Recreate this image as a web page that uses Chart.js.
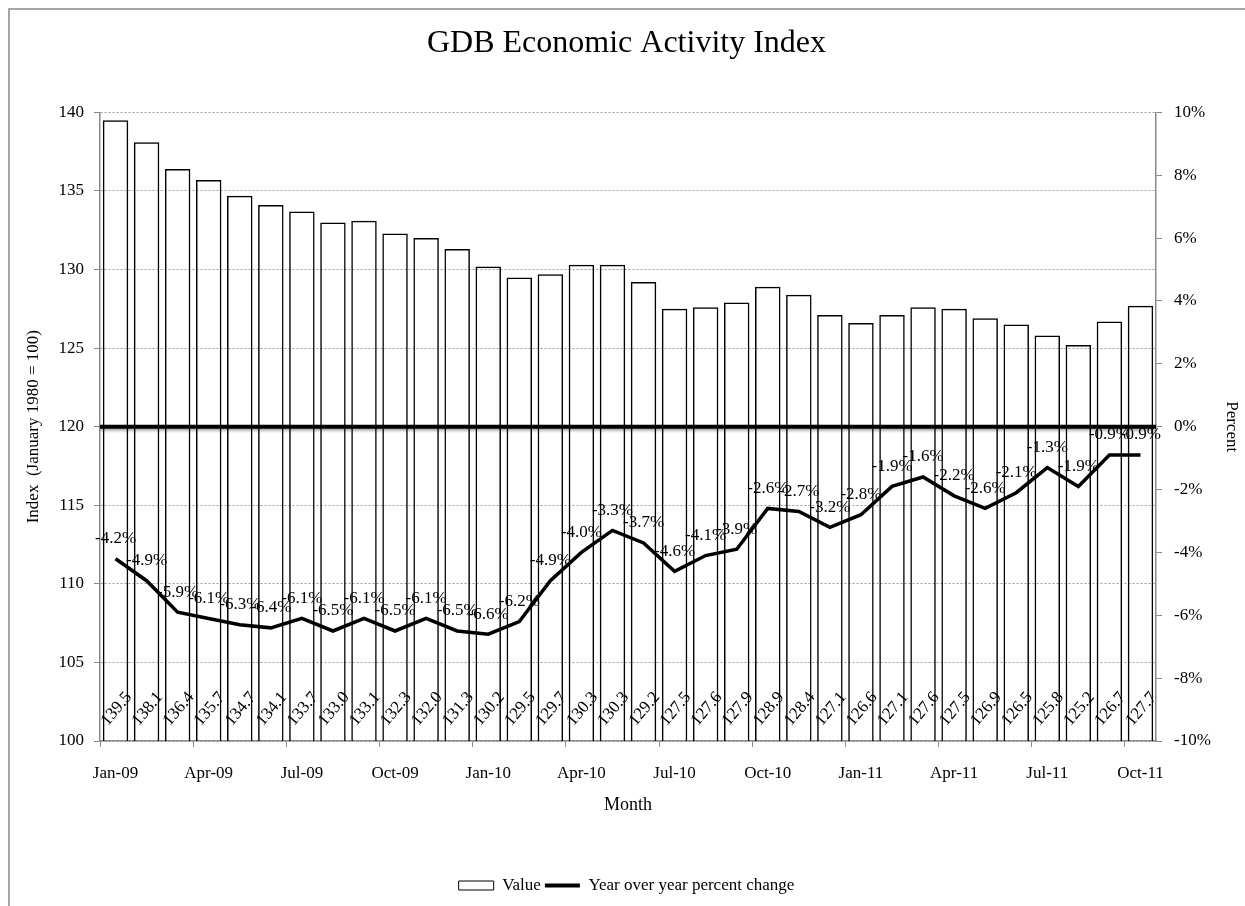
<!DOCTYPE html>
<html>
<head>
<meta charset="utf-8">
<title>GDB Economic Activity Index</title>
<script src="https://cdn.jsdelivr.net/npm/chart.js@4.4.0/dist/chart.umd.min.js"></script>
<style>
    html, body { margin: 0; padding: 0; background: #fff; }
    #wrap { position: relative; width: 1245px; height: 906px; }
</style>
</head>
<body>
<div id="wrap"><canvas id="gdbChart"></canvas></div>
<script>
// month labels, Jan-09 .. Oct-11
const months = [
    "Jan-09", "Feb-09", "Mar-09", "Apr-09", "May-09", "Jun-09", "Jul-09", "Aug-09", "Sep-09", "Oct-09", "Nov-09", "Dec-09",
    "Jan-10", "Feb-10", "Mar-10", "Apr-10", "May-10", "Jun-10", "Jul-10", "Aug-10", "Sep-10", "Oct-10", "Nov-10", "Dec-10",
    "Jan-11", "Feb-11", "Mar-11", "Apr-11", "May-11", "Jun-11", "Jul-11", "Aug-11", "Sep-11", "Oct-11"
];

// index value (January 1980 = 100)
const indexValues = [
    139.5, 138.1, 136.4, 135.7, 134.7, 134.1, 133.7, 133.0, 133.1, 132.3, 132.0, 131.3,
    130.2, 129.5, 129.7, 130.3, 130.3, 129.2, 127.5, 127.6, 127.9, 128.9, 128.4, 127.1,
    126.6, 127.1, 127.6, 127.5, 126.9, 126.5, 125.8, 125.2, 126.7, 127.7
];

// year over year percent change
const yoyChange = [
    -4.2, -4.9, -5.9, -6.1, -6.3, -6.4, -6.1, -6.5, -6.1, -6.5, -6.1, -6.5,
    -6.6, -6.2, -4.9, -4.0, -3.3, -3.7, -4.6, -4.1, -3.9, -2.6, -2.7, -3.2,
    -2.8, -1.9, -1.6, -2.2, -2.6, -2.1, -1.3, -1.9, -0.9, -0.9
];

const serif = "'Liberation Serif', 'Times New Roman', serif";
const axisGray = "#8a8a8a";

Chart.defaults.font.family = serif;
Chart.defaults.font.size = 17;
Chart.defaults.color = "#000";

// grey frame around the chart object (only top and left edges are visible)
const framePlugin = {
    id: "frame",
    beforeDraw(chart) {
        const ctx = chart.ctx;
        ctx.save();
        ctx.fillStyle = "#fff";
        ctx.fillRect(0, 0, chart.width, chart.height);
        ctx.strokeStyle = "#a6a6a6";
        ctx.lineWidth = 2;
        ctx.beginPath();
        ctx.moveTo(9, chart.height);
        ctx.lineTo(9, 9);
        ctx.lineTo(chart.width, 9);
        ctx.stroke();
        ctx.restore();
    }
};

// zero line of the percent axis + data labels
const labelPlugin = {
    id: "labels",
    afterDatasetsDraw(chart) {
        const ctx = chart.ctx;
        const area = chart.chartArea;
        const zeroY = chart.scales.y1.getPixelForValue(0);

        ctx.save();
        ctx.shadowColor = "rgba(0,0,0,0.35)";
        ctx.shadowBlur = 3;
        ctx.shadowOffsetY = 2;
        ctx.strokeStyle = "#000";
        ctx.lineWidth = 4;
        ctx.beginPath();
        ctx.moveTo(area.left, zeroY);
        ctx.lineTo(area.right, zeroY);
        ctx.stroke();
        ctx.restore();

        ctx.save();
        ctx.fillStyle = "#000";
        ctx.font = "17px " + serif;
        ctx.textAlign = "center";
        ctx.textBaseline = "middle";

        // rotated value labels near the foot of each bar
        const barMeta = chart.getDatasetMeta(0);
        const baseY = chart.scales.y.bottom;
        barMeta.data.forEach((bar, i) => {
            ctx.save();
            ctx.translate(bar.x + 1, baseY - 32);
            ctx.rotate(-50 * Math.PI / 180);
            ctx.fillText(indexValues[i].toFixed(1), 0, 0);
            ctx.restore();
        });

        // percent labels above the line points
        const lineMeta = chart.getDatasetMeta(1);
        lineMeta.data.forEach((pt, i) => {
            ctx.fillText(yoyChange[i].toFixed(1) + "%", pt.x, pt.y - 20);
        });
        ctx.restore();
    }
};

new Chart(document.getElementById("gdbChart"), {
    type: "bar",
    data: {
        labels: months,
        datasets: [
            {
                label: "Value",
                data: indexValues,
                yAxisID: "y",
                backgroundColor: "transparent",
                borderColor: "#000",
                borderWidth: 1.5,
                barPercentage: 0.82,
                categoryPercentage: 1.0,
                order: 1
            },
            {
                type: "line",
                label: "Year over year percent change",
                data: yoyChange,
                yAxisID: "y1",
                borderColor: "#000",
                borderWidth: 3.5,
                pointRadius: 0,
                tension: 0,
                fill: false,
                order: 0
            }
        ]
    },
    options: {
        responsive: true,
        maintainAspectRatio: false,
        animation: false,
        layout: { padding: { left: 8, right: 0, top: 0, bottom: 2 } },
        plugins: {
            title: {
                display: true,
                text: "GDB Economic Activity Index",
                color: "#000",
                font: { size: 32, weight: "normal" },
                padding: { top: 24, bottom: 50 }
            },
            legend: {
                position: "bottom",
                labels: {
                    color: "#000",
                    padding: 4,
                    usePointStyle: true,
                    pointStyleWidth: 35,
                    boxHeight: 9,
                    generateLabels(chart) {
                        return chart.data.datasets.map((ds, i) => ({
                            text: ds.label,
                            fillStyle: "#fff",
                            strokeStyle: "#000",
                            lineWidth: i === 0 ? 1 : 4,
                            pointStyle: i === 0 ? "rect" : "line",
                            hidden: false,
                            datasetIndex: i,
                            fontColor: "#000"
                        }));
                    }
                }
            },
            tooltip: { enabled: false }
        },
        scales: {
            x: {
                offset: true,
                grid: {
                    offset: true,
                    drawOnChartArea: false,
                    tickLength: 6,
                    color: (c) => (c.index % 3 === 0 ? axisGray : "transparent")
                },
                border: { color: axisGray, width: 1.5 },
                ticks: {
                    autoSkip: false,
                    maxRotation: 0,
                    padding: 16,
                    callback: (v, i) => (i % 3 === 0 ? months[i] : "")
                },
                title: {
                    display: true,
                    text: "Month",
                    font: { size: 18 },
                    padding: { top: 0, bottom: 57 }
                },
                afterFit(scale) { scale.height = 132; }
            },
            y: {
                position: "left",
                min: 100,
                max: 140,
                ticks: { stepSize: 5, padding: 10 },
                grid: { color: "#9a9a9a", tickColor: axisGray, tickLength: 6 },
                border: { color: axisGray, width: 1.5, dash: [2, 2] },
                title: {
                    display: true,
                    text: "Index  (January 1980 = 100)",
                    font: { size: 17 },
                    padding: { top: 15, bottom: 0 }
                },
                afterFit(scale) { scale.width = 92; }
            },
            y1: {
                position: "right",
                min: -10,
                max: 10,
                ticks: {
                    stepSize: 2,
                    padding: 12,
                    callback: (v) => v + "%"
                },
                grid: { drawOnChartArea: false, color: axisGray, tickLength: 6 },
                border: { color: axisGray, width: 1.5 },
                title: {
                    display: true,
                    text: "Percent",
                    font: { size: 17 },
                    padding: { top: 3, bottom: 0 }
                },
                afterFit(scale) { scale.width = 89; }
            }
        }
    },
    plugins: [framePlugin, labelPlugin]
});
</script>
</body>
</html>
